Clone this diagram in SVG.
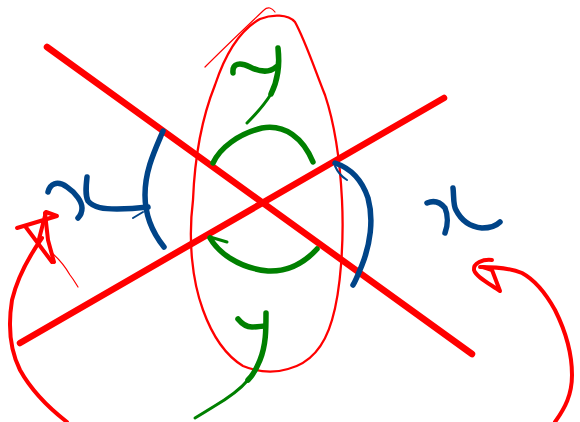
<svg xmlns="http://www.w3.org/2000/svg" width="580" height="422" viewBox="0 0 580 422">
<style>
path,line{fill:none;stroke-linecap:round;stroke-linejoin:round}
.rt{stroke:#ff0000;stroke-width:6.5}
.rm{stroke:#ff0000;stroke-width:4}
.rs{stroke:#ff0000;stroke-width:2.3}
.rx{stroke:#ff0000;stroke-width:1.2}
.g{stroke:#008000;stroke-width:5.5}
.gt{stroke:#008000;stroke-width:3}
.b{stroke:#004488;stroke-width:5.5}
.bt{stroke:#004488;stroke-width:2}
</style>
<rect width="580" height="422" fill="#ffffff"/>
<g id="ellipse">
<path class="rs" d="M193,200 C195,150 205,110 215,85 C225,55 240,30 260,19 C272,14 288,14 295,22 C305,40 315,70 325,95 C335,125 340,160 342,200 C344,240 341,290 332,320 C324,348 308,364 288,369 C275,373 260,373 243,366 C225,355 212,335 203,310 C192,280 188,240 193,200 Z"/>
<path class="rx" d="M205,67 C220,52 245,28 264,10 C268,6 272,8 275,12"/>
</g>
<g id="lines">
<line class="rt" x1="47" y1="47" x2="472" y2="354"/>
<line class="rt" x1="20" y1="343" x2="444" y2="98"/>
</g>
<g id="y-top">
<path class="g" d="M233,73 C232,63 240,62 250,67 C258,71 268,74 276,67"/>
<path class="g" d="M278,48 C280,65 278,80 271,94"/>
<path class="gt" d="M271,94 C263,107 254,116 247,123"/>
</g>
<g id="arc-top">
<path class="g" d="M213,163 C220,148 238,134 262,128 C285,124 303,138 313,162"/>
</g>
<g id="arc-bottom">
<path class="g" d="M210,238 C218,252 238,268 268,271 C290,272 305,262 317,249"/>
<path class="gt" d="M210,237 L227,242"/>
</g>
<g id="y-bottom">
<path class="g" d="M238,319 C242,324 246,327 252,327 C258,327 262,326 265,326"/>
<path class="g" d="M266,313 C266,330 266,345 260,360 C256,370 252,376 248,380"/>
<path class="gt" d="M248,380 C238,392 225,400 213,407 C205,412 200,415 195,418"/>
</g>
<g id="x-left">
<path class="b" d="M48,192 C50,184 57,180 67,187 C76,193 82,202 82,208 C82,212 80,216 78,218"/>
<path class="b" d="M87,177 C86,186 85,195 88,201 C94,208 104,209 117,209 C128,209 140,208 148,207"/>
<path class="bt" d="M133,218 L143,212"/>
</g>
<g id="bracket-left">
<path class="b" d="M163,131 C155,150 145,170 145,195 C145,215 152,232 164,247"/>
</g>
<g id="bracket-right">
<path class="b" d="M335,163 C350,168 362,180 368,198 C374,220 370,245 362,265 C358,275 355,282 353,285"/>
<path class="bt" d="M335,166 C338,173 342,177 347,180"/>
</g>
<g id="x-right">
<path class="b" d="M427,203 C434,200 440,202 445,208 C448,215 448,225 445,233"/>
<path class="b" d="M453,188 C454,196 453,205 456,210 C462,222 472,227 482,228 C490,228 496,226 500,222"/>
</g>
<g id="arrow-left">
<path class="rm" d="M17,228 L57,216 L46,212 L38,243"/>
<path class="rm" d="M25,226 L52,262"/>
<path class="rm" d="M45,213 L48,240 L54,262"/>
<path class="rm" d="M42,238 C30,255 18,275 12,300 C8,325 10,350 20,370 C30,388 45,405 67,422"/>
<path class="rx" d="M52,253 C60,260 66,268 70,275 C74,280 76,284 78,287"/>
</g>
<g id="arrow-right">
<path class="rm" d="M492,260 C483,259 473,263 474,270 C476,277 490,284 500,291 L492,270 L483,267"/>
<path class="rm" d="M480,267 C495,267 510,268 522,273 C535,280 545,292 555,310 C565,330 572,350 572,375 C572,395 565,408 555,422"/>
</g>
</svg>
